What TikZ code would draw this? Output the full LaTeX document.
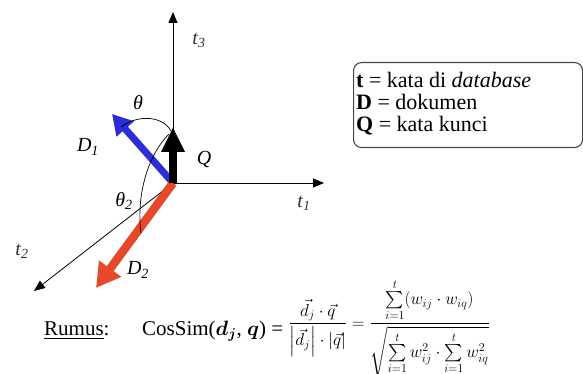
\documentclass[tikz,border=0pt]{standalone}
\usepackage{amsmath}
\usepackage{fontspec}
\setmainfont{Liberation Serif}
\usetikzlibrary{arrows.meta}
\definecolor{dblue}{RGB}{45,45,215}
\definecolor{dred}{RGB}{232,72,42}
\definecolor{boxgray}{RGB}{70,70,70}
\begin{document}
\begin{tikzpicture}[x=1pt,y=-1pt,
  axis/.style={line width=0.8pt,-{Triangle[length=11pt,width=9pt]}},
  vecarrow/.style={line width=7pt,-{Triangle[length=20pt,width=22pt]}},
  arcline/.style={line width=0.7pt},
  lab/.style={font=\fontsize{20}{24}\selectfont\itshape,inner sep=0pt},
  tlab/.style={font=\fontsize{20}{24}\selectfont\itshape,inner sep=0pt,text=black!80},
  legtext/.style={font=\fontsize{22}{26}\selectfont,inner sep=0pt,anchor=base west},
  formula/.style={font=\fontsize{21}{25}\selectfont,inner sep=0pt,anchor=base west}]
\useasboundingbox (0,0) rectangle (583,374);
% axes
\coordinate (O) at (173,183);
\coordinate (t3end) at (173,12);
\coordinate (t1end) at (324,183);
\coordinate (t2end) at (34,291);
\draw[axis] (O) -- (t3end);
\draw[axis] (O) -- (t1end);
\draw[axis] (O) -- (t2end);
\node[tlab] (t3) at (199,40) {t\textsubscript{3}};
\node[tlab] (t1) at (304,203) {t\textsubscript{1}};
\node[tlab] (t2) at (22,251) {t\textsubscript{2}};
% vectors
\coordinate (d1tip) at (112,114);
\coordinate (qtip) at (173,127);
\coordinate (d2tip) at (96,288);
\draw[vecarrow,dblue] (O) -- (d1tip);
\draw[vecarrow,dred,line width=8.5pt,-{Triangle[length=24pt,width=26pt]}] (O) -- (d2tip);
\draw[vecarrow,black,line width=7.5pt,-{Triangle[length=25pt,width=22pt]}] (O) -- (qtip);
% angle arcs
\coordinate (a1s) at (171,131);
\coordinate (a1e) at (121,127);
\coordinate (a2s) at (169,134);
\coordinate (a2e) at (141,233);
\draw[arcline] (a1s) .. controls (163,116) and (138,114) .. (a1e);
\draw[arcline] (a2s) .. controls (148,155) and (136,195) .. (a2e);
\node[lab] (theta) at (138,103) {θ};
\node[lab] (theta2) at (124,201) {θ\textsubscript{2}};
\node[lab] (D1) at (88,147) {D\textsubscript{1}};
\node[lab] (Q) at (204,160) {Q};
\node[lab] (D2) at (138,270) {D\textsubscript{2}};
% legend
\node[draw=boxgray,line width=1.1pt,rounded corners=8pt,minimum width=229pt,minimum height=85pt,anchor=north west,inner sep=0pt] (legend) at (353,62) {};
\node[legtext] (l1) at (356,88) {\textbf{t} = kata di \textit{database}};
\node[legtext] (l2) at (356,110) {\textbf{D} = dokumen};
\node[legtext] (l3) at (356,132) {\textbf{Q} = kata kunci};
% formula
\node[formula] (rumus) at (44,335) {\underline{Rumus}:};
\node[formula] (cossim) at (142,335) {CosSim($\boldsymbol{d_j}$, $\boldsymbol{q}$) = \raisebox{7pt}{\fontsize{17}{20}\selectfont$\dfrac{\vec{d_j}\cdot\vec{q}}{\left|\vec{d_j}\right|\cdot\left|\vec{q}\right|} = \dfrac{\textstyle\sum\limits_{i=1}^{t}(w_{ij}\cdot w_{iq})}{\sqrt{\textstyle\sum\limits_{i=1}^{t} w_{ij}^{2}\cdot\sum\limits_{i=1}^{t} w_{iq}^{2}}}$}};
\end{tikzpicture}
\end{document}
